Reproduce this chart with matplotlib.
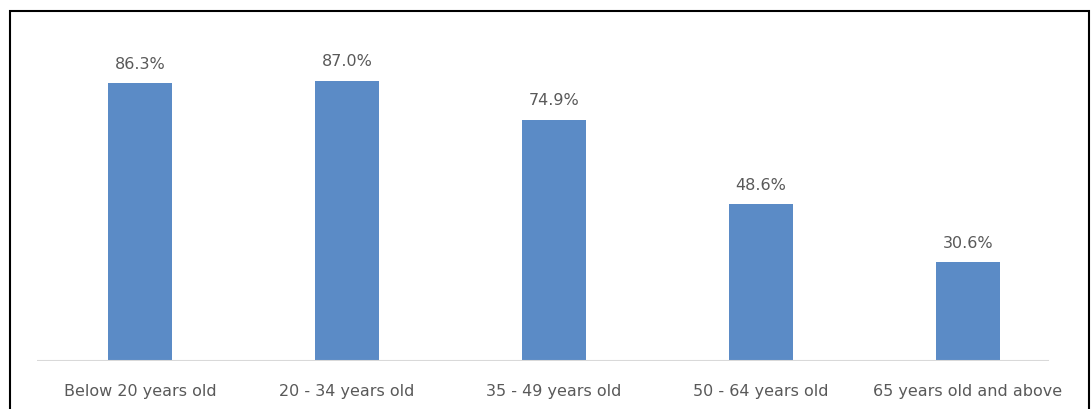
import matplotlib.pyplot as plt
from matplotlib.patches import Rectangle

categories = ['Below 20 years old', '20 - 34 years old', '35 - 49 years old',
              '50 - 64 years old', '65 years old and above']
values = [86.3, 87.0, 74.9, 48.6, 30.6]
labels = ['86.3%', '87.0%', '74.9%', '48.6%', '30.6%']

fig = plt.figure(figsize=(10.92, 4.10), dpi=100)
ax = fig.add_axes([36.5 / 1092, 48 / 410, 1035 / 1092, 342 / 410])

x = range(len(categories))
bars = ax.bar(x, values, width=0.31, color='#5b8bc6')

for b, lab in zip(bars, labels):
    ax.annotate(lab, (b.get_x() + b.get_width() / 2, b.get_height()),
                xytext=(0, 9), textcoords='offset points', ha='center',
                va='bottom', fontsize=11.5, color='#595959')

ax.set_xlim(-0.5, 4.5)
ax.set_ylim(0, 106.2)
for s in ax.spines.values():
    s.set_visible(False)
ax.axhline(0, xmin=0, xmax=(1048 - 36.5) / 1035, color='#d9d9d9', lw=1.5)
ax.set_yticks([])
ax.set_xticks(list(x))
ax.set_xticklabels(categories, fontsize=11.5, color='#595959')
ax.tick_params(axis='x', length=0, pad=16)

# outer frame
fig.patches.append(Rectangle((10 / 1092, -0.1), 1079 / 1092, 1.1 - 12 / 410,
                             transform=fig.transFigure, fill=False,
                             edgecolor='black', lw=1.5))

fig.savefig('out.png', dpi=100)
